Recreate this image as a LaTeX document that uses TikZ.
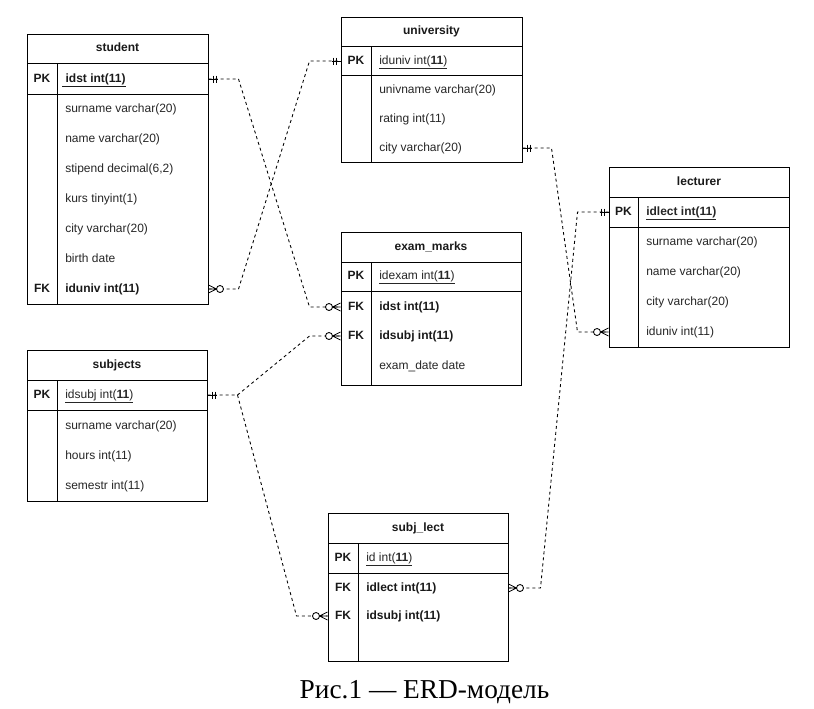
\documentclass[tikz,border=0pt]{standalone}
\usepackage{fontspec}
\setmainfont{Liberation Sans}
\newfontfamily\capfont{Liberation Serif}
\usetikzlibrary{fit, calc}
\tikzset{
    % outer frame of an entity
    entity/.style={draw, line width=0.75pt, inner sep=0pt},
    % inner rules of an entity (header, key row, key column)
    rule/.style={line width=0.75pt},
    % entity name in the header
    ename/.style={font=\bfseries\fontsize{9}{11}\selectfont, text=black!90,
        inner sep=0pt, text height=6.5pt, text depth=1.9pt},
    % PK / FK marks in the key column
    keymark/.style={ename},
    % attribute rows
    attr/.style={anchor=west, inner sep=0pt, text height=6.5pt, text depth=1.9pt,
        font=\fontsize{9}{11}\selectfont, text=black!85},
    keyattr/.style={attr, font=\bfseries\fontsize{9}{11}\selectfont, text=black!90},
    % relationship lines
    rel/.style={line width=0.65pt, dash pattern=on 2.25pt off 2.25pt},
    % one and only one
    mone/.pic={
        \draw[line width=0.75pt] (4.5,-3.5) -- (4.5,3.5) (7.5,-3.5) -- (7.5,3.5);
        \draw[line width=0.65pt] (0,0) -- (9,0);
    },
    % zero or many
    zmany/.pic={
        \draw[line width=0.65pt] (0,-4) -- (8,0) -- (0,4) (0,0) -- (8,0);
        \draw[line width=0.65pt, fill=white] (11.5,0) circle[radius=3.5];
    },
}

\begin{document}
\begin{tikzpicture}[x=0.75pt, y=-0.75pt]
    \useasboundingbox (0,0) rectangle (814,708);

    % --- student ---
    \node[entity, fit={(27,34) (208,304)}] (student) {};
    \draw[rule] (27,63) -- (208,63) (27,94) -- (208,94) (57,63) -- (57,304);
    \node[ename] (st-name) at (117.5,48.5) {student};
    \node[keymark] (st-pk) at (42,79) {PK};
    \node[keyattr] (st-idst) at (62,79) {\underline{\ idst int(11)}};
    \foreach \t [count=\i] in {surname varchar(20), name varchar(20),
        {stipend decimal(6,2)}, kurs tinyint(1), city varchar(20), birth date}
        \node[attr] (st-a\i) at (65,79+30*\i) {\t};
    \node[keymark] (st-fk) at (42,289) {FK};
    \node[keyattr] (st-iduniv) at (65,289) {iduniv int(11)};

    % --- university ---
    \node[entity, fit={(341,17) (522,162)}] (univ) {};
    \draw[rule] (341,46) -- (522,46) (341,75) -- (522,75) (371,46) -- (371,162);
    \node[ename] (un-name) at (431.5,31.5) {university};
    \node[keymark] (un-pk) at (356,61) {PK};
    \node[attr] (un-iduniv) at (379,61) {\underline{iduniv int(\textbf{11})}};
    \foreach \t [count=\i] in {univname varchar(20), rating int(11), city varchar(20)}
        \node[attr] (un-a\i) at (379,61+29*\i) {\t};

    % --- exam_marks ---
    \node[entity, fit={(341,232) (521,385)}] (exam) {};
    \draw[rule] (341,262) -- (521,262) (341,291) -- (521,291) (371,262) -- (371,385);
    \node[ename] (em-name) at (431,247) {exam\_marks};
    \node[keymark] (em-pk) at (356,276) {PK};
    \node[attr] (em-idexam) at (379,276) {\underline{idexam int(\textbf{11})}};
    \node[keymark] (em-fk1) at (356,307) {FK};
    \node[keyattr] (em-idst) at (379,307) {idst int(11)};
    \node[keymark] (em-fk2) at (356,336) {FK};
    \node[keyattr] (em-idsubj) at (379,336) {idsubj int(11)};
    \node[attr] (em-date) at (379,366) {exam\_date date};

    % --- lecturer ---
    \node[entity, fit={(609,167) (789,347)}] (lect) {};
    \draw[rule] (609,197) -- (789,197) (609,227) -- (789,227) (638,197) -- (638,347);
    \node[ename] (le-name) at (699,182) {lecturer};
    \node[keymark] (le-pk) at (623.5,212) {PK};
    \node[attr] (le-idlect) at (646,212) {\underline{\textbf{idlect int(11)}}};
    \foreach \t [count=\i] in {surname varchar(20), name varchar(20),
        city varchar(20), iduniv int(11)}
        \node[attr] (le-a\i) at (646,212+30*\i) {\t};

    % --- subjects ---
    \node[entity, fit={(27,350) (207,501)}] (subjects) {};
    \draw[rule] (27,380) -- (207,380) (27,410) -- (207,410) (57,380) -- (57,501);
    \node[ename] (sb-name) at (117,365) {subjects};
    \node[keymark] (sb-pk) at (42,395) {PK};
    \node[attr] (sb-idsubj) at (65,395) {\underline{idsubj int(\textbf{11})}};
    \foreach \t [count=\i] in {surname varchar(20), hours int(11), semestr int(11)}
        \node[attr] (sb-a\i) at (65,396+30*\i) {\t};

    % --- subj_lect ---
    \node[entity, fit={(328,513) (508,661)}] (sl) {};
    \draw[rule] (328,543) -- (508,543) (328,573) -- (508,573) (358,543) -- (358,661);
    \node[ename] (sl-name) at (418,528) {subj\_lect};
    \node[keymark] (sl-pk) at (343,558) {PK};
    \node[attr] (sl-id) at (366,558) {\underline{id int(\textbf{11})}};
    \node[keymark] (sl-fk1) at (343,588) {FK};
    \node[keyattr] (sl-idlect) at (366,588) {idlect int(11)};
    \node[keymark] (sl-fk2) at (343,616) {FK};
    \node[keyattr] (sl-idsubj) at (366,616) {idsubj int(11)};

    % relationships
    \draw[rel] (student.east |- st-idst) -- ++(30,0)
        -- ($(exam.west |- em-idst)+(-31,0)$) -- (exam.west |- em-idst);
    \draw[rel] (student.east |- st-iduniv) -- ++(30,0)
        -- ($(univ.west |- un-iduniv)+(-31,0)$) -- (univ.west |- un-iduniv);
    \draw[rel] (univ.east |- un-a3) -- ++(29,0)
        -- ($(lect.west |- le-a4)+(-31,0)$) -- (lect.west |- le-a4);
    \draw[rel] (lect.west |- le-idlect) -- ++(-31,0)
        -- ($(sl.east |- sl-idlect)+(32,0)$) -- (sl.east |- sl-idlect);
    \draw[rel] (subjects.east |- sb-idsubj) -- ++(30,0) coordinate (sb-fork)
        -- ($(exam.west |- em-idsubj)+(-31,0)$) -- (exam.west |- em-idsubj);
    \draw[rel] (sb-fork) -- ($(sl.west |- sl-idsubj)+(-31,0)$) -- (sl.west |- sl-idsubj);

    % cardinality marks
    \pic at (student.east |- st-idst) {mone};
    \pic at (student.east |- st-iduniv) {zmany};
    \pic[xscale=-1] at (exam.west |- em-idst) {zmany};
    \pic[xscale=-1] at (univ.west |- un-iduniv) {mone};
    \pic at (univ.east |- un-a3) {mone};
    \pic[xscale=-1] at (lect.west |- le-a4) {zmany};
    \pic[xscale=-1] at (lect.west |- le-idlect) {mone};
    \pic at (sl.east |- sl-idlect) {zmany};
    \pic at (subjects.east |- sb-idsubj) {mone};
    \pic[xscale=-1] at (exam.west |- em-idsubj) {zmany};
    \pic[xscale=-1] at (sl.west |- sl-idsubj) {zmany};

    % caption
    \node[font=\capfont\fontsize{20.5}{24}\selectfont] (caption) at (424.5,692)
        {Рис.1 — ERD-модель};
\end{tikzpicture}
\end{document}
